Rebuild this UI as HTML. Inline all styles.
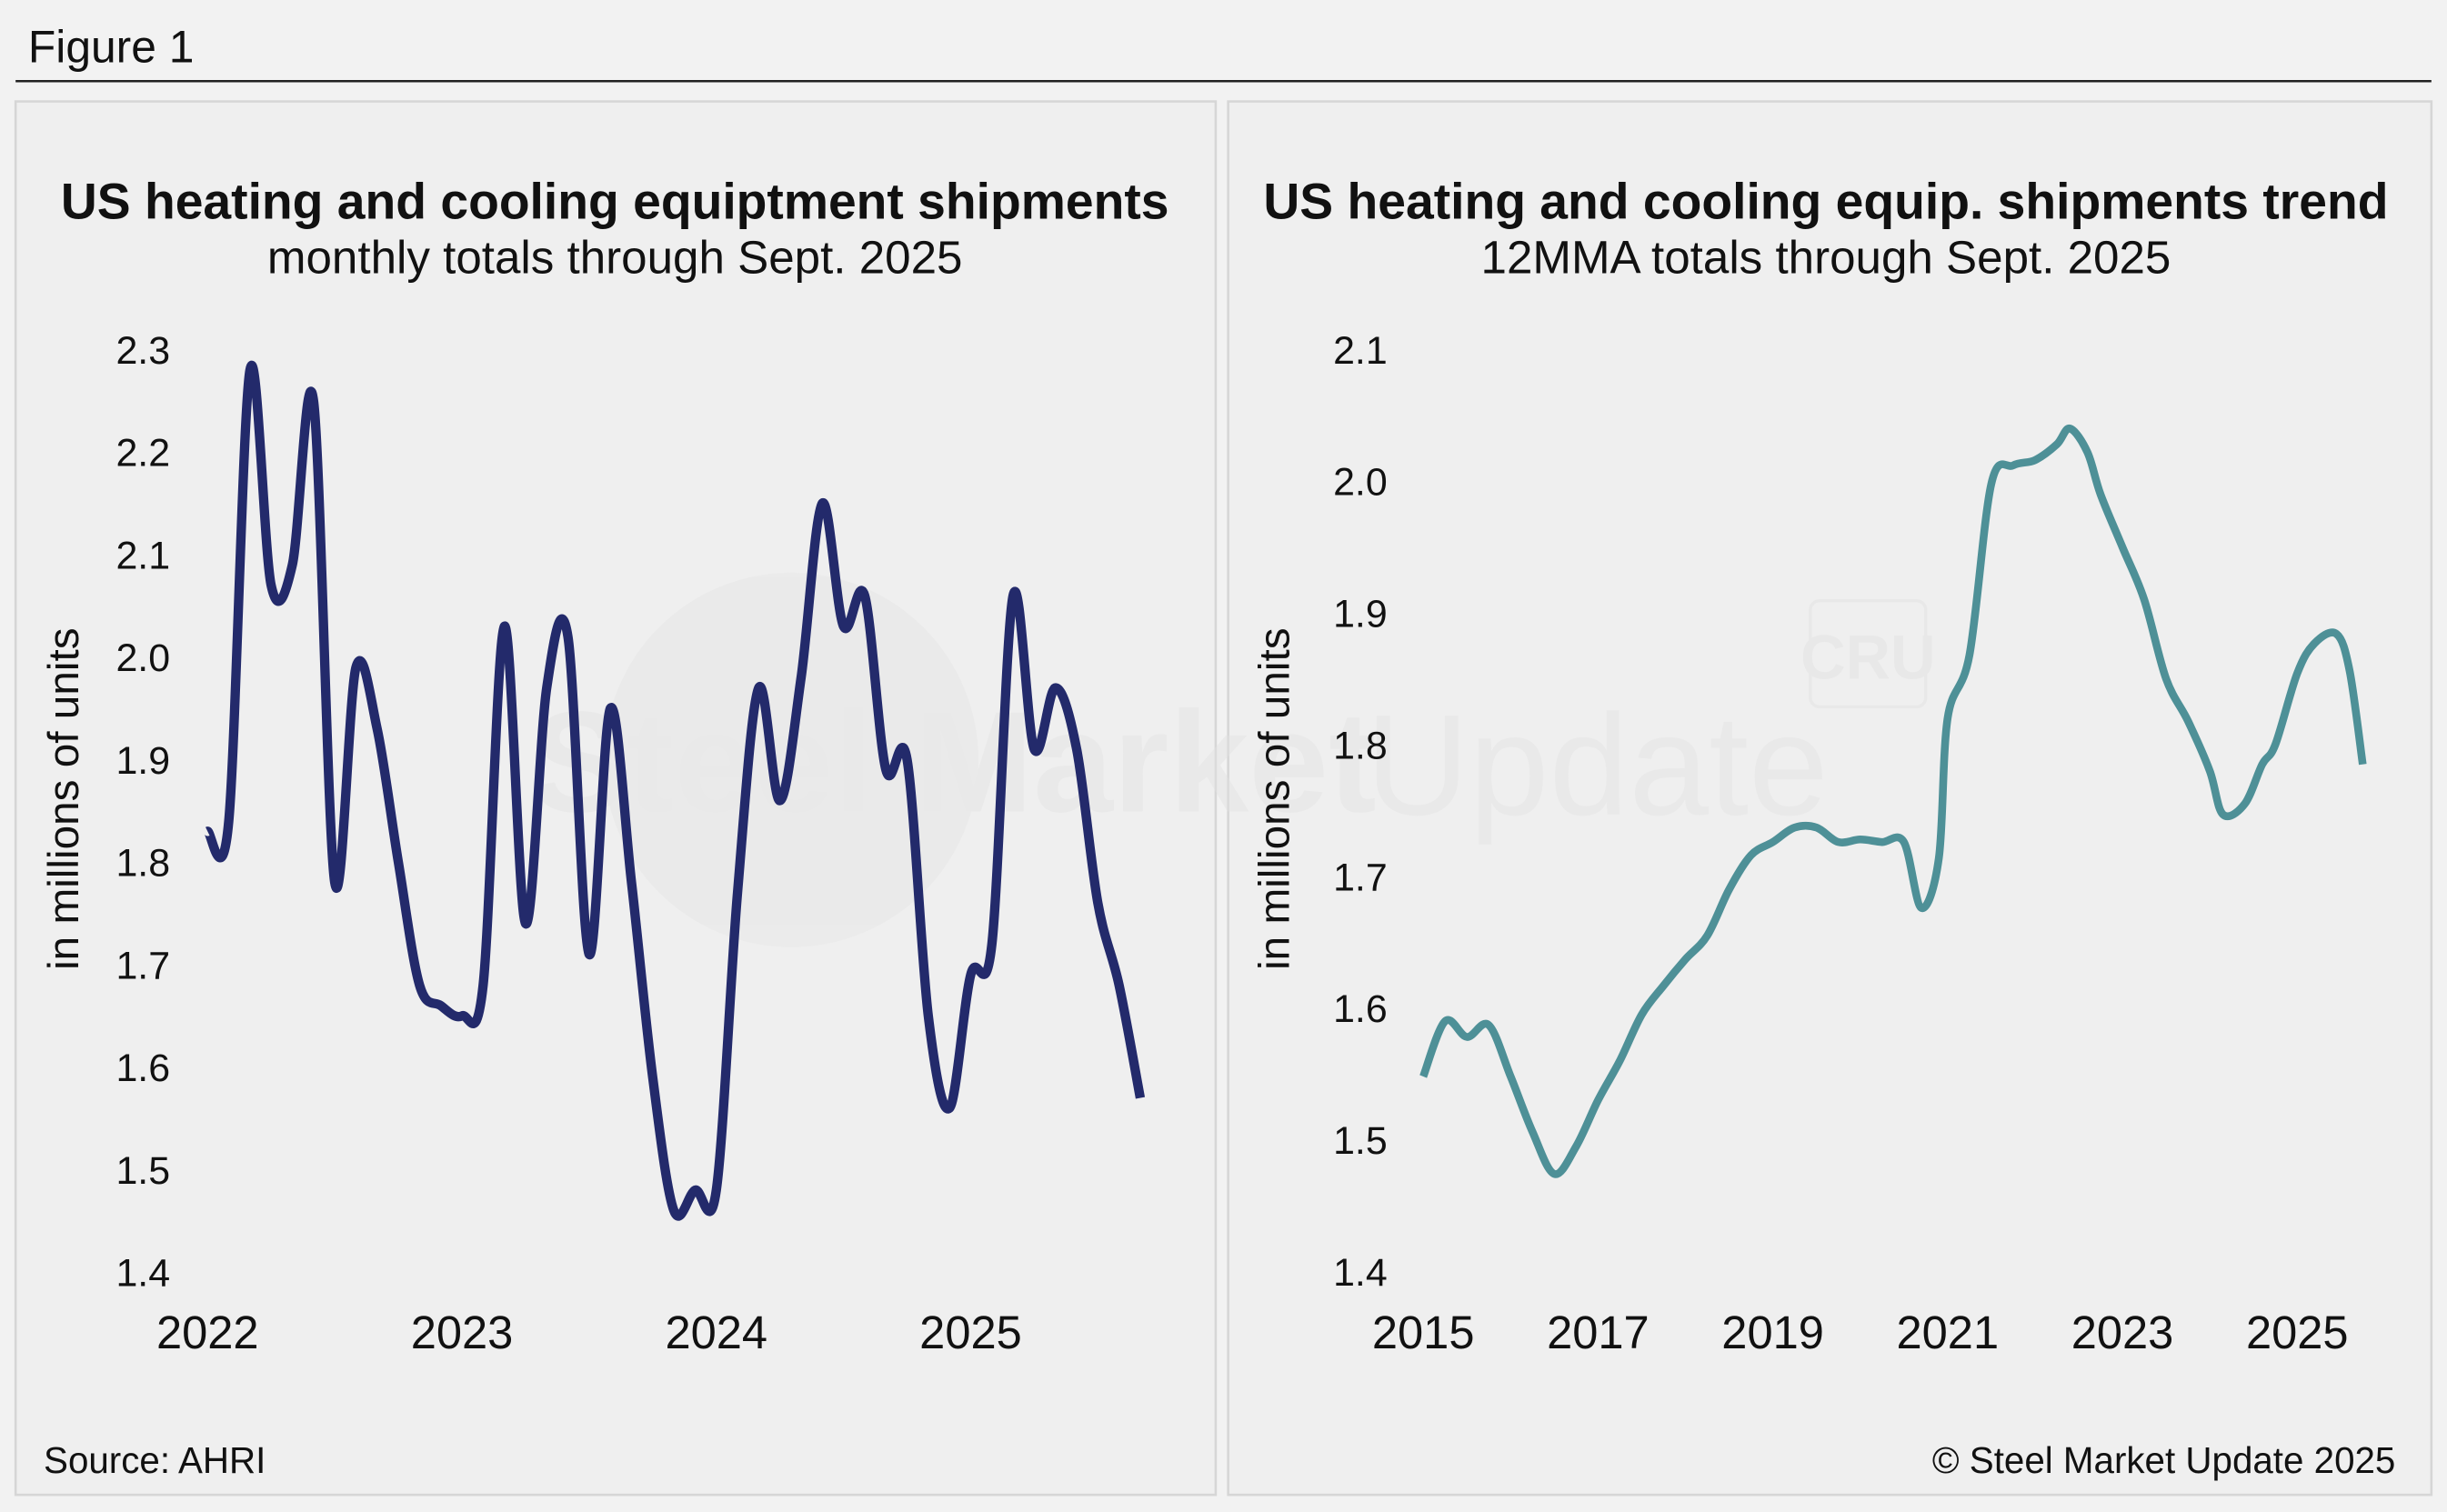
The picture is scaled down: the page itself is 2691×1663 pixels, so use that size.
<!DOCTYPE html>
<html><head><meta charset="utf-8"><style>
html,body{margin:0;padding:0;background:#f2f2f2;}
svg{display:block;font-family:"Liberation Sans",Arial,sans-serif;}
</style></head><body>
<svg id="fig" width="2691" height="1663" viewBox="0 0 1568 969" xmlns="http://www.w3.org/2000/svg">
<rect x="0" y="0" width="1568" height="969" fill="#f2f2f2"/>
<text x="18" y="40" font-size="29" fill="#111">Figure 1</text>
<line x1="10" y1="52" x2="1558" y2="52" stroke="#222" stroke-width="1.5"/>
<rect x="10" y="65" width="769" height="893" fill="#efefef" stroke="#d6d6d6" stroke-width="1.5"/>
<rect x="787" y="65" width="771" height="893" fill="#efefef" stroke="#d6d6d6" stroke-width="1.5"/>
<g opacity="0.45">
<circle cx="507" cy="487" r="120" fill="#e6e6e6"/>
<text x="340" y="520" font-size="92" font-weight="bold" fill="#e2e2e2">Steel Market</text>
<text x="875" y="522" font-size="92" fill="#e2e2e2">Update</text>
<rect x="1160" y="385" width="74" height="68" rx="6" fill="none" stroke="#e0e0e0" stroke-width="2"/>
<text x="1197" y="435" font-size="40" font-weight="bold" text-anchor="middle" fill="#e0e0e0">CRU</text>
</g>
<text x="394" y="140" font-size="32.2" font-weight="bold" text-anchor="middle" fill="#111">US heating and cooling equiptment shipments</text>
<text x="394" y="175" font-size="29.8" text-anchor="middle" fill="#111">monthly totals through Sept. 2025</text>
<text x="1170" y="140" font-size="32.2" font-weight="bold" text-anchor="middle" fill="#111">US heating and cooling equip. shipments trend</text>
<text x="1170" y="175" font-size="29.8" text-anchor="middle" fill="#111">12MMA totals through Sept. 2025</text>
<text transform="translate(50,512) rotate(-90)" font-size="27.8" text-anchor="middle" fill="#111">in millions of units</text>
<text transform="translate(826,512) rotate(-90)" font-size="27.8" text-anchor="middle" fill="#111">in millions of units</text>
<text x="28" y="944" font-size="23.5" fill="#111">Source: AHRI</text>
<text x="1535" y="944" font-size="23.5" text-anchor="end" fill="#111">© Steel Market Update 2025</text>
<g id="left"></g>
<g id="right"></g>
</svg>
<script>
const leftYTicks=[1.4,1.5,1.6,1.7,1.8,1.9,2.0,2.1,2.2,2.3];
const leftXTicks=[2022,2023,2024,2025];
const leftValues=[1.83,1.84,2.28,2.07,2.09,2.25,1.78,1.99,1.93,1.80,1.68,1.66,1.65,1.68,2.03,1.74,1.97,2.02,1.71,1.95,1.78,1.59,1.46,1.48,1.48,1.77,1.97,1.86,1.98,2.15,2.03,2.06,1.89,1.90,1.65,1.56,1.69,1.72,2.06,1.91,1.97,1.91,1.76,1.68,1.57];
const rightYTicks=[1.4,1.5,1.6,1.7,1.8,1.9,2.0,2.1];
const rightXTicks=[2015,2017,2019,2021,2023,2025];
const rightDates=[2015.0,2015.25,2015.5,2015.75,2016.0,2016.25,2016.5,2016.75,2017.0,2017.25,2017.5,2017.75,2018.0,2018.25,2018.5,2018.75,2019.0,2019.25,2019.5,2019.75,2020.0,2020.25,2020.5,2020.7,2020.9,2021.0,2021.25,2021.5,2021.75,2022.0,2022.25,2022.4,2022.6,2022.75,2023.0,2023.25,2023.5,2023.75,2024.0,2024.15,2024.4,2024.6,2024.75,2025.0,2025.2,2025.45,2025.6,2025.75];
const rightValues=[1.548,1.59,1.578,1.587,1.548,1.506,1.474,1.495,1.53,1.56,1.595,1.617,1.637,1.655,1.69,1.716,1.726,1.737,1.737,1.726,1.728,1.726,1.726,1.676,1.714,1.82,1.868,1.998,2.012,2.016,2.028,2.04,2.022,1.99,1.95,1.91,1.85,1.818,1.78,1.747,1.755,1.785,1.80,1.854,1.877,1.884,1.856,1.785];

const NS="http://www.w3.org/2000/svg";
function mk(tag,attrs,parent,txt){const e=document.createElementNS(NS,tag);for(const k in attrs)e.setAttribute(k,attrs[k]);if(txt!==undefined)e.textContent=txt;parent.appendChild(e);return e;}
function smooth(pts){let d=`M${pts[0][0]},${pts[0][1]}`;for(let i=0;i<pts.length-1;i++){const p0=pts[Math.max(0,i-1)],p1=pts[i],p2=pts[i+1],p3=pts[Math.min(pts.length-1,i+2)];const c1=[p1[0]+(p2[0]-p0[0])/6,p1[1]+(p2[1]-p0[1])/6],c2=[p2[0]-(p3[0]-p1[0])/6,p2[1]-(p3[1]-p1[1])/6];d+=` C${c1[0]},${c1[1]} ${c2[0]},${c2[1]} ${p2[0]},${p2[1]}`;}return d;}

const L=document.getElementById('left');


const lx=m=>133+m*(163/12), ly=v=>224+(2.3-v)*657;
leftYTicks.forEach(t=>{const e=mk('text',{x:109,y:ly(t)+9,'font-size':25,'text-anchor':'end',fill:'#111'},L,t.toFixed(1));

});
leftXTicks.forEach(t=>{const e=mk('text',{x:lx((t-2022)*12),y:864,'font-size':29.5,'text-anchor':'middle',fill:'#111'},L,String(t));

});
const lp=mk('path',{d:smooth(leftValues.map((v,i)=>[lx(i),ly(v)])),fill:'none',stroke:'#232a6b','stroke-width':6,'stroke-linejoin':'round'},L);



const R=document.getElementById('right');


const rx=y=>912+(y-2015)*56, ry=v=>224+(2.1-v)*844;
rightYTicks.forEach(t=>{const e=mk('text',{x:889,y:ry(t)+9,'font-size':25,'text-anchor':'end',fill:'#111'},R,t.toFixed(1));

});
rightXTicks.forEach(t=>{const e=mk('text',{x:rx(t),y:864,'font-size':29.5,'text-anchor':'middle',fill:'#111'},R,String(t));

});
const rp=mk('path',{d:smooth(rightDates.map((d,i)=>[rx(d),ry(rightValues[i])])),fill:'none',stroke:'#4e9097','stroke-width':5,'stroke-linejoin':'round'},R);


</script>
</body></html>
